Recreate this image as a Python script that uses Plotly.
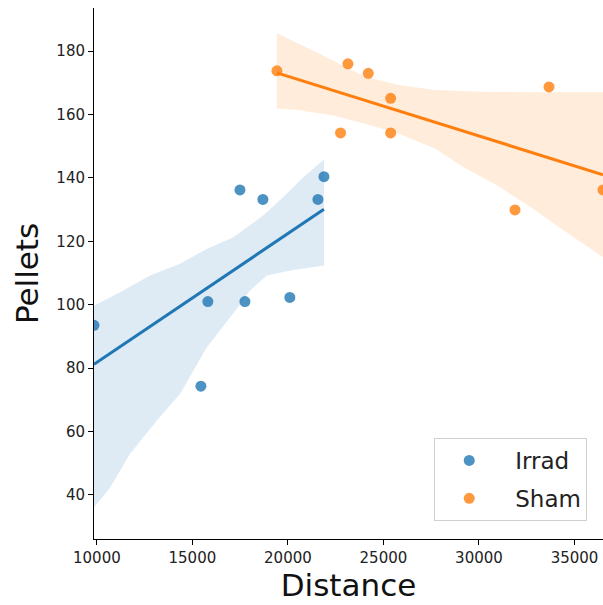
import numpy as np
import plotly.graph_objects as go

# ---- data ----
irrad_distance = [9850, 15445, 15810, 17490, 17750, 18690, 20100, 21570, 21885]
irrad_pellets = [93.5, 74.3, 101.0, 136.2, 101.0, 133.2, 102.3, 133.2, 140.4]

sham_distance = [19424, 22754, 23141, 24204, 25377, 25377, 31885, 33665, 36492]
sham_pellets = [173.8, 154.2, 176.0, 173.0, 165.1, 154.2, 129.9, 168.7, 136.2]

# 95% confidence band edges (bootstrap band)
irrad_ci_upper_x = [9850, 11378, 12778, 14350, 15750, 17144, 18716, 19764, 20813, 21885]
irrad_ci_upper_y = [99.7, 104.5, 109.2, 112.9, 117.6, 121.3, 128.2, 134.0, 140.3, 145.8]
irrad_ci_lower_x = [9850, 10681, 11730, 13129, 14350, 15750, 17322, 18019, 18894, 20115, 21885]
irrad_ci_lower_y = [36.0, 42.3, 52.9, 63.4, 71.8, 86.5, 98.7, 104.5, 109.2, 110.8, 112.4]

sham_ci_upper_x = [19424, 20550, 21598, 22825, 24046, 25791, 27715, 30073, 32694, 36492]
sham_ci_upper_y = [185.6, 182.4, 179.3, 175.6, 171.9, 169.3, 167.7, 167.2, 167.0, 167.0]
sham_ci_lower_x = [19424, 20550, 22301, 24046, 25791, 27715, 29198, 30949, 32694, 34439, 36492]
sham_ci_lower_y = [161.9, 161.4, 159.8, 157.1, 154.0, 149.2, 143.4, 137.6, 130.8, 123.4, 115.0]

group_names = ["Irrad", "Sham"]
x_ticks = [10000, 15000, 20000, 25000, 30000, 35000]
y_ticks = [40, 60, 80, 100, 120, 140, 160, 180]

line_colors = ["#1f77b4", "#ff7f0e"]
band_colors = ["rgba(31,119,180,0.15)", "rgba(255,127,14,0.15)"]

groups = [(irrad_distance, irrad_pellets), (sham_distance, sham_pellets)]
bands = [
    (irrad_ci_upper_x, irrad_ci_upper_y, irrad_ci_lower_x, irrad_ci_lower_y),
    (sham_ci_upper_x, sham_ci_upper_y, sham_ci_lower_x, sham_ci_lower_y),
]

fig = go.Figure()
for i, (ux, uy, lx, ly) in enumerate(bands):
    fig.add_trace(go.Scatter(
        x=list(ux) + list(lx)[::-1],
        y=list(uy) + list(ly)[::-1],
        fill="toself", fillcolor=band_colors[i], line=dict(width=0),
        mode="lines", hoverinfo="skip", showlegend=False,
    ))
for i, (xs, ys) in enumerate(groups):
    b, a = np.polyfit(xs, ys, 1)
    grid = np.linspace(min(xs), max(xs), 100)
    fig.add_trace(go.Scatter(
        x=grid, y=a + b * grid, mode="lines",
        line=dict(color=line_colors[i], width=3), showlegend=False,
    ))
    fig.add_trace(go.Scatter(
        x=xs, y=ys, mode="markers", name=group_names[i],
        legendgroup=group_names[i],
        marker=dict(color=line_colors[i], size=11, opacity=0.8, line=dict(width=0)),
    ))

axis_common = dict(
    showgrid=False, zeroline=False, showline=True, linecolor="black", linewidth=1,
    ticks="outside", ticklen=5, tickwidth=1, tickcolor="black",
    tickfont=dict(family="DejaVu Sans", size=15, color="#222"),
)
fig.update_xaxes(
    range=[min(irrad_distance), max(sham_distance)],
    tickvals=x_ticks, ticktext=[str(v) for v in x_ticks],
    title=dict(text="Distance", font=dict(family="DejaVu Sans", size=31, color="#111"), standoff=8),
    **axis_common,
)
fig.update_yaxes(
    range=[26.1, 193.6],
    tickvals=y_ticks, ticktext=[str(v) for v in y_ticks],
    title=dict(text="Pellets", font=dict(family="DejaVu Sans", size=31, color="#111"), standoff=8),
    **axis_common,
)
fig.update_layout(
    width=603, height=605,
    margin=dict(l=94, r=0, t=8, b=66),
    plot_bgcolor="white", paper_bgcolor="white",
    legend=dict(
        x=0.969, y=0.034, xanchor="right", yanchor="bottom",
        bgcolor="rgba(255,255,255,0.8)", bordercolor="#d0d0d0", borderwidth=1,
        font=dict(family="DejaVu Sans", size=23, color="#222"),
        tracegroupgap=5, indentation=-12, itemwidth=82,
    ),
)
fig.write_html("out.html")
